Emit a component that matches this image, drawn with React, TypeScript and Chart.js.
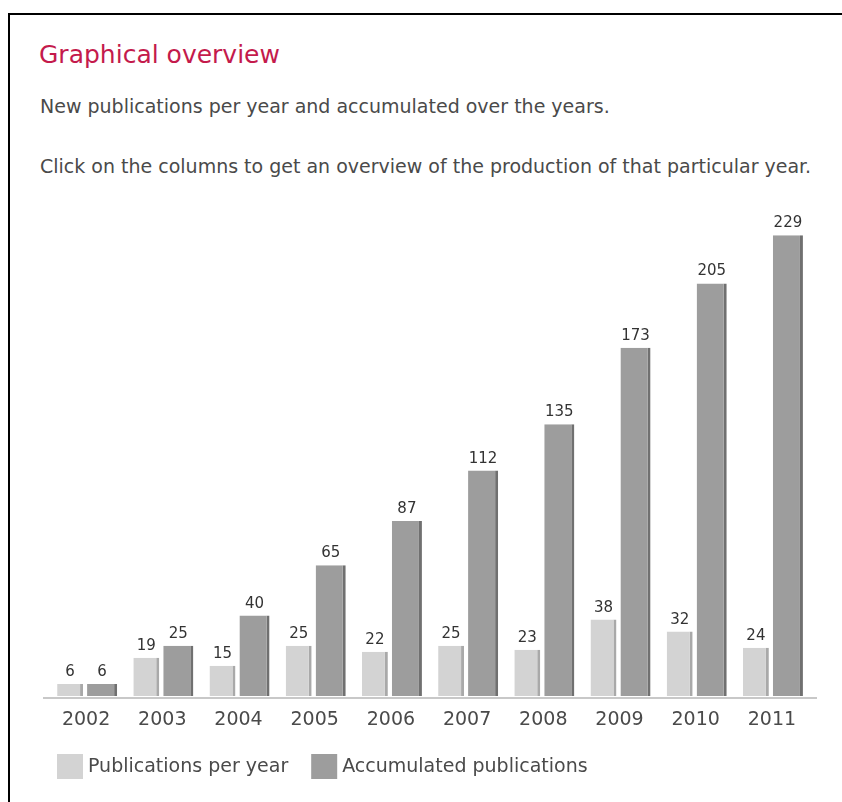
import React, { useEffect, useRef } from 'react';
import { Chart, registerables } from 'chart.js';

Chart.register(...registerables);

const years = ['2002', '2003', '2004', '2005', '2006', '2007', '2008', '2009', '2010', '2011'];
const perYear = [6, 19, 15, 25, 22, 25, 23, 38, 32, 24];
const accumulated = [6, 25, 40, 65, 87, 112, 135, 173, 205, 229];
const seriesNames = ['Publications per year', 'Accumulated publications'];
const titleText = 'Graphical overview';
const introLine1 = 'New publications per year and accumulated over the years.';
const introLine2 = 'Click on the columns to get an overview of the production of that particular year.';

const FONT = '"DejaVu Sans", sans-serif';
const TEXT = '#4a4a4a';

export default function App() {
  const ref = useRef<HTMLCanvasElement>(null);

  useEffect(() => {
    if (!ref.current) return;

    const valueLabels = {
      id: 'valueLabels',
      afterDatasetsDraw(chart: any) {
        const ctx = chart.ctx;
        ctx.save();
        ctx.font = `15px ${FONT}`;
        ctx.fillStyle = '#333333';
        ctx.textAlign = 'center';
        ctx.textBaseline = 'alphabetic';
        chart.data.datasets.forEach((ds: any, di: number) => {
          const meta = chart.getDatasetMeta(di);
          meta.data.forEach((el: any, i: number) => {
            ctx.fillText(String(ds.data[i]), el.x, el.y - 8);
          });
        });
        ctx.restore();
      },
    };

    const baseline = {
      id: 'baseline',
      beforeDatasetsDraw(chart: any) {
        const { ctx, chartArea } = chart;
        ctx.save();
        ctx.fillStyle = '#c8c8c8';
        ctx.fillRect(chartArea.left - 5, chartArea.bottom + 1, chartArea.right - chartArea.left + 12, 2);
        ctx.restore();
      },
    };

    const customLegend = {
      id: 'customLegend',
      afterDraw(chart: any) {
        const { ctx, chartArea } = chart;
        ctx.save();
        ctx.font = `19px ${FONT}`;
        ctx.textAlign = 'left';
        ctx.textBaseline = 'middle';
        let x = chartArea.left + 9;
        const y = chartArea.bottom + 58;
        chart.data.datasets.forEach((ds: any) => {
          ctx.fillStyle = ds.backgroundColor;
          ctx.fillRect(x, y, 26, 25);
          ctx.fillStyle = TEXT;
          const tx = x + 31;
          ctx.fillText(ds.label, tx, y + 13);
          x = tx + ctx.measureText(ds.label).width + 23;
        });
        ctx.restore();
      },
    };

    const chart = new Chart(ref.current, {
      type: 'bar',
      data: {
        labels: years,
        datasets: [
          {
            label: seriesNames[0],
            data: perYear,
            backgroundColor: '#d3d3d3',
            borderColor: '#a9a9a9',
            borderWidth: { top: 0, left: 0, bottom: 0, right: 3 },
            borderSkipped: false,
            barPercentage: 0.81,
            categoryPercentage: 0.84,
          },
          {
            label: seriesNames[1],
            data: accumulated,
            backgroundColor: '#9d9d9d',
            borderColor: '#707070',
            borderWidth: { top: 0, left: 0, bottom: 0, right: 3 },
            borderSkipped: false,
            barPercentage: 0.94,
            categoryPercentage: 0.84,
          },
        ],
      },
      options: {
        responsive: false,
        animation: false,
        devicePixelRatio: 1,
        layout: { padding: { left: 48, right: 32, top: 23, bottom: 56 } },
        scales: {
          x: {
            grid: { display: false, drawTicks: false },
            border: { display: false },
            ticks: { color: TEXT, font: { family: FONT, size: 19 }, padding: 13 },
            afterFit: (scale: any) => {
              scale.height = 50;
            },
          },
          y: {
            display: false,
            min: 0,
            max: 240,
          },
        },
        plugins: {
          tooltip: { enabled: false },
          legend: { display: false },
        },
      },
      plugins: [valueLabels, baseline, customLegend],
    });

    return () => chart.destroy();
  }, []);

  return (
    <div style={{ position: 'absolute', left: 0, top: 0, width: 842, height: 802, background: '#fff', overflow: 'hidden' }}>
      <div
        style={{
          position: 'absolute',
          left: 8,
          top: 13,
          width: 900,
          height: 900,
          borderTop: '2px solid #000',
          borderLeft: '2px solid #000',
        }}
      />
      <div
        style={{
          position: 'absolute',
          left: 39,
          top: 42,
          fontFamily: FONT,
          fontSize: 25,
          lineHeight: '25px',
          color: '#c41a4c',
          whiteSpace: 'nowrap',
        }}
      >
        {titleText}
      </div>
      <div
        style={{
          position: 'absolute',
          left: 40,
          top: 97,
          fontFamily: FONT,
          fontSize: 19,
          lineHeight: '19px',
          color: TEXT,
          whiteSpace: 'nowrap',
        }}
      >
        {introLine1}
      </div>
      <div
        style={{
          position: 'absolute',
          left: 40,
          top: 157,
          fontFamily: FONT,
          fontSize: 19,
          lineHeight: '19px',
          color: TEXT,
          whiteSpace: 'nowrap',
        }}
      >
        {introLine2}
      </div>
      <canvas
        ref={ref}
        width={842}
        height={612}
        style={{ position: 'absolute', left: 0, top: 190, width: 842, height: 612 }}
      />
    </div>
  );
}
